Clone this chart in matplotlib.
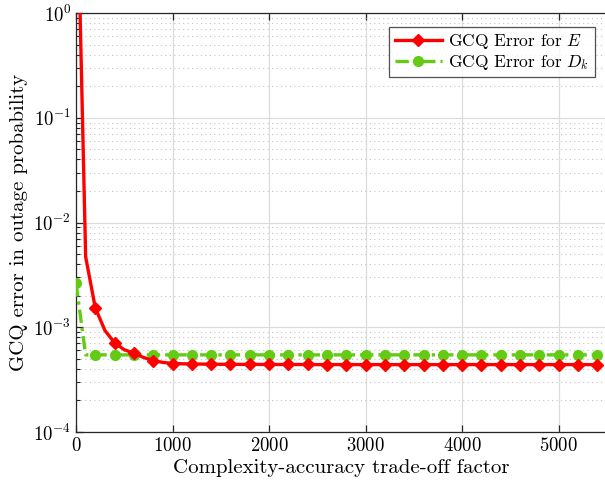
import matplotlib
matplotlib.use("Agg")
import matplotlib.pyplot as plt
from matplotlib.ticker import LogLocator, NullFormatter, FixedLocator

plt.rcParams['font.family'] = 'serif'
plt.rcParams['font.serif'] = ['cmr10', 'DejaVu Serif']
plt.rcParams['mathtext.fontset'] = 'cm'
plt.rcParams['axes.formatter.use_mathtext'] = True

x_vals = list(range(0, 5500, 100))
err_E = [50, 4.7e-3, 1.53e-3, 9.3e-4, 7.1e-4, 6.1e-4, 5.65e-4, 5.15e-4, 4.8e-4, 4.62e-4,
         4.5e-4, 4.48e-4, 4.46e-4, 4.45e-4, 4.44e-4, 4.43e-4, 4.43e-4, 4.42e-4, 4.42e-4, 4.42e-4,
         4.41e-4, 4.41e-4, 4.41e-4, 4.41e-4, 4.41e-4, 4.4e-4, 4.4e-4, 4.4e-4, 4.4e-4, 4.4e-4,
         4.4e-4, 4.4e-4, 4.4e-4, 4.4e-4, 4.4e-4, 4.4e-4, 4.4e-4, 4.4e-4, 4.4e-4, 4.4e-4,
         4.4e-4, 4.4e-4, 4.4e-4, 4.4e-4, 4.4e-4, 4.4e-4, 4.4e-4, 4.4e-4, 4.4e-4, 4.4e-4,
         4.4e-4, 4.4e-4, 4.4e-4, 4.4e-4, 4.4e-4]
err_D = [2.63e-3] + [5.45e-4] * 54
x_ticks = [0, 1000, 2000, 3000, 4000, 5000]
series_labels = ['GCQ Error for $E$', 'GCQ Error for $D_k$']

fig = plt.figure(figsize=(6.05, 4.93), dpi=100)
ax = fig.add_axes([76/605, 61/493, 531/605, 419/493])

ax.plot(x_vals, err_D, color='#62cc14', linestyle=(0, (4, 1.5, 1, 1.5)), linewidth=2.4,
        marker='o', markersize=7, markevery=2, label=series_labels[1], zorder=3)
ax.plot(x_vals, err_E, color='#ff0000', linestyle='-', linewidth=2.4,
        marker='D', markersize=6.2, markevery=2, label=series_labels[0], zorder=4)

ax.set_yscale('log')
ax.set_ylim(1e-4, 1)
ax.set_xlim(0, 5500)
ax.xaxis.set_major_locator(FixedLocator(x_ticks))
ax.yaxis.set_major_locator(LogLocator(base=10, numticks=10))
ax.yaxis.set_minor_locator(LogLocator(base=10, subs=range(2, 10), numticks=20))
ax.yaxis.set_minor_formatter(NullFormatter())

ax.grid(True, which='major', axis='both', color='#dcdcdc', linewidth=0.9, linestyle='-')
ax.grid(True, which='minor', axis='y', color='#c4c4c4', linewidth=0.8, linestyle=(0, (1, 3)))
ax.set_axisbelow(True)

ax.tick_params(which='both', direction='in', top=True, right=False, labelsize=13.5, color='#262626')
ax.tick_params(which='major', length=5, width=0.9)
ax.tick_params(which='minor', length=3, width=0.8)
for s in ['left', 'bottom', 'top']:
    ax.spines[s].set_color('#262626')
    ax.spines[s].set_linewidth(0.9)
ax.spines['right'].set_visible(False)

ax.set_xlabel('Complexity-accuracy trade-off factor', fontsize=15, labelpad=3)
ax.set_ylabel('GCQ error in outage probability', fontsize=15, labelpad=4)

handles, labels = ax.get_legend_handles_labels()
leg = ax.legend(handles[::-1], labels[::-1], loc='upper right', bbox_to_anchor=(0.977, 0.967),
                fontsize=12.5, frameon=True, fancybox=False, edgecolor='#262626',
                handlelength=2.7, borderpad=0.3, labelspacing=0.12, handletextpad=0.4,
                borderaxespad=0)
leg.get_frame().set_linewidth(0.9)

fig.savefig('out.png', dpi=100)
